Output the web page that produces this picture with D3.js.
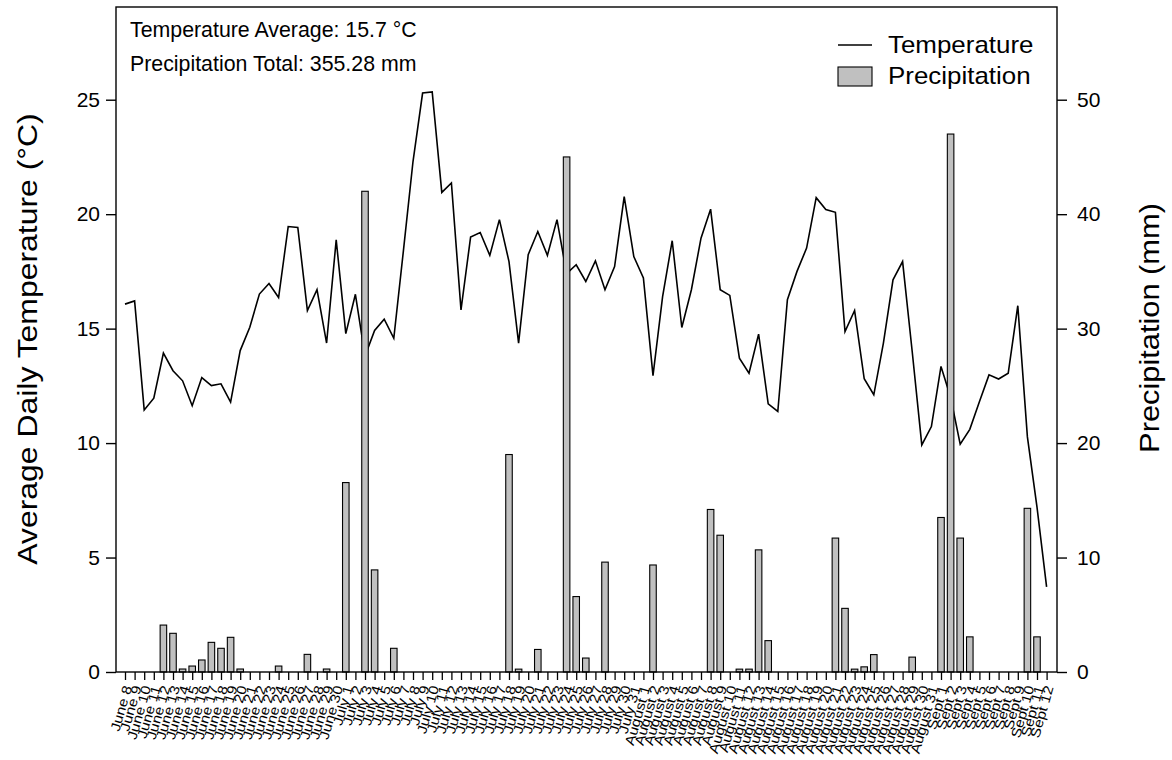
<!DOCTYPE html>
<html>
<head>
<meta charset="utf-8">
<script src="https://cdn.jsdelivr.net/npm/d3@7"></script>
<style>
  html, body { margin: 0; padding: 0; background: #fff; }
  svg { display: block; font-family: "Liberation Sans", Arial, sans-serif; }
</style>
</head>
<body>
<svg id="chart" width="1172" height="760"></svg>
<script>
// ---- data ----
const dates = [
  "June 8","June 9","June 10","June 11","June 12","June 13","June 14","June 15","June 16","June 17",
  "June 18","June 19","June 20","June 21","June 22","June 23","June 24","June 25","June 26","June 27",
  "June 28","June 29","June 30",
  "July 1","July 2","July 3","July 4","July 5","July 6","July 7","July 8","July 9","July 10",
  "July 11","July 12","July 13","July 14","July 15","July 16","July 17","July 18","July 19","July 20",
  "July 21","July 22","July 23","July 24","July 25","July 26","July 27","July 28","July 29","July 30","July 31",
  "August 1","August 2","August 3","August 4","August 5","August 6","August 7","August 8","August 9","August 10",
  "August 11","August 12","August 13","August 14","August 15","August 16","August 17","August 18","August 19","August 20",
  "August 21","August 22","August 23","August 24","August 25","August 26","August 27","August 28","August 29","August 30","August 31",
  "Sept 1","Sept 2","Sept 3","Sept 4","Sept 5","Sept 6","Sept 7","Sept 8","Sept 9","Sept 10","Sept 11","Sept 12"
];

const temperature = [
  16.07,16.21,11.45,11.96,13.93,13.16,12.72,11.63,12.86,12.51,
  12.59,11.79,14.04,15.06,16.51,16.97,16.36,19.46,19.42,15.79,
  16.70,14.37,18.88,
  14.78,16.50,13.80,14.92,15.41,14.58,18.40,22.30,25.29,25.34,
  20.95,21.36,15.82,19.00,19.20,18.20,19.76,17.93,14.37,18.23,
  19.24,18.20,19.76,17.40,17.79,17.06,17.96,16.70,17.71,20.77,18.15,
  17.21,12.95,16.40,18.84,15.05,16.70,18.95,20.22,16.70,16.45,
  13.71,13.05,14.76,11.71,11.38,16.26,17.50,18.52,20.72,20.20,
  20.08,14.87,15.79,12.81,12.11,14.37,17.13,17.93,14.00,9.92,10.72,
  13.35,12.00,9.95,10.60,11.81,12.98,12.80,13.05,16.00,10.27,7.20,3.72
];

const precipitation = [
  0,0,0,0,4.10,3.38,0.26,0.52,1.05,2.59,
  2.07,3.03,0.26,0,0,0,0.52,0,0,1.54,
  0,0.26,0,
  16.55,0,42.00,8.92,0,2.07,0,0,0,0,
  0,0,0,0,0,0,0,19.00,0.25,0,
  1.97,0,0,45.00,6.59,1.22,0,9.60,0,0,0,
  0,9.35,0,0,0,0,0,14.20,11.95,0,
  0.25,0.25,10.67,2.74,0,0,0,0,0,0,
  11.70,5.56,0.25,0.45,1.52,0,0,0,1.30,0,0,
  13.50,47.00,11.70,3.07,0,0,0,0,0,14.30,3.07,0
];

const tempTicks = [0, 5, 10, 15, 20, 25];
const precipTicks = [0, 10, 20, 30, 40, 50];
const annotations = ["Temperature Average: 15.7 °C", "Precipitation Total: 355.28 mm"];
const legendLabels = ["Temperature", "Precipitation"];
const axisTitles = ["Average Daily Temperature (°C)", "Precipitation (mm)"];

// ---- layout ----
const svg = d3.select("#chart");
const L = 116, R = 1057, T = 7, B = 672;

const x = d3.scalePoint().domain(dates).range([125, 1046.6]);
const yT = d3.scaleLinear().domain([0, 29.05]).range([B, T]);
const yP = d3.scaleLinear().domain([0, 58.1]).range([B, T]);
const bw = x.step() * 0.68;

const rows = dates.map((d, i) => ({ date: d, t: temperature[i], p: precipitation[i] }));

// temperature line (drawn under bars)
svg.append("path")
  .datum(rows)
  .attr("fill", "none")
  .attr("stroke", "#000")
  .attr("stroke-width", 1.6)
  .attr("stroke-linejoin", "miter")
  .attr("d", d3.line().x(d => x(d.date)).y(d => yT(d.t)));

// precipitation bars
svg.append("g").selectAll("rect")
  .data(rows.filter(d => d.p > 0))
  .join("rect")
  .attr("x", d => x(d.date) - bw / 2)
  .attr("y", d => yP(d.p))
  .attr("width", bw)
  .attr("height", d => B - yP(d.p))
  .attr("fill", "#c0c0c0")
  .attr("stroke", "#000")
  .attr("stroke-width", 1.1);

// frame
svg.append("rect")
  .attr("x", L).attr("y", T).attr("width", R - L).attr("height", B - T)
  .attr("fill", "none").attr("stroke", "#000").attr("stroke-width", 1.4);

// left axis
const gL = svg.append("g").attr("transform", `translate(${L},0)`)
  .call(d3.axisLeft(yT).tickValues(tempTicks).tickSize(10).tickPadding(6).tickSizeOuter(0));
gL.select(".domain").remove();
gL.selectAll("text").style("font-size", "21px").attr("fill", "#000");
gL.selectAll("line").attr("stroke-width", 1.4);

// right axis
const gR = svg.append("g").attr("transform", `translate(${R},0)`)
  .call(d3.axisRight(yP).tickValues(precipTicks).tickSize(10).tickPadding(10).tickSizeOuter(0));
gR.select(".domain").remove();
gR.selectAll("text").style("font-size", "21px").attr("fill", "#000");
gR.selectAll("line").attr("stroke-width", 1.4);

// bottom axis
const gB = svg.append("g").attr("transform", `translate(0,${B})`)
  .call(d3.axisBottom(x).tickSize(8).tickSizeOuter(0));
gB.select(".domain").remove();
gB.selectAll("line").attr("stroke-width", 1.3);
gB.selectAll("text")
  .style("font-size", "13.5px")
  .style("text-anchor", "end")
  .attr("fill", "#000")
  .attr("x", 0).attr("y", 0).attr("dy", "0.35em")
  .attr("transform", "translate(2,14) rotate(-74) scale(1.15,1)");

// axis titles
svg.append("text")
  .attr("transform", "translate(37,339) rotate(-90) scale(1.14,1)")
  .attr("text-anchor", "middle")
  .style("font-size", "28px")
  .text(axisTitles[0]);
svg.append("text")
  .attr("transform", "translate(1159,328) rotate(-90) scale(1.1,1)")
  .attr("text-anchor", "middle")
  .style("font-size", "28px")
  .text(axisTitles[1]);

// annotations
svg.append("g").selectAll("text")
  .data(annotations)
  .join("text")
  .attr("transform", (d, i) => `translate(130,${37 + i * 34}) scale(0.97,1)`)
  .style("font-size", "22px")
  .text(d => d);

// legend
const lg = svg.append("g");
lg.append("line").attr("x1", 838).attr("x2", 872).attr("y1", 45).attr("y2", 45)
  .attr("stroke", "#000").attr("stroke-width", 1.6);
lg.append("rect").attr("x", 838).attr("y", 67).attr("width", 34).attr("height", 19)
  .attr("fill", "#c0c0c0").attr("stroke", "#000").attr("stroke-width", 1.1);
lg.selectAll("text.lbl")
  .data(legendLabels)
  .join("text")
  .attr("class", "lbl")
  .attr("transform", (d, i) => `translate(888,${53 + i * 31}) scale(1.08,1)`)
  .style("font-size", "24px")
  .text(d => d);
</script>
</body>
</html>
